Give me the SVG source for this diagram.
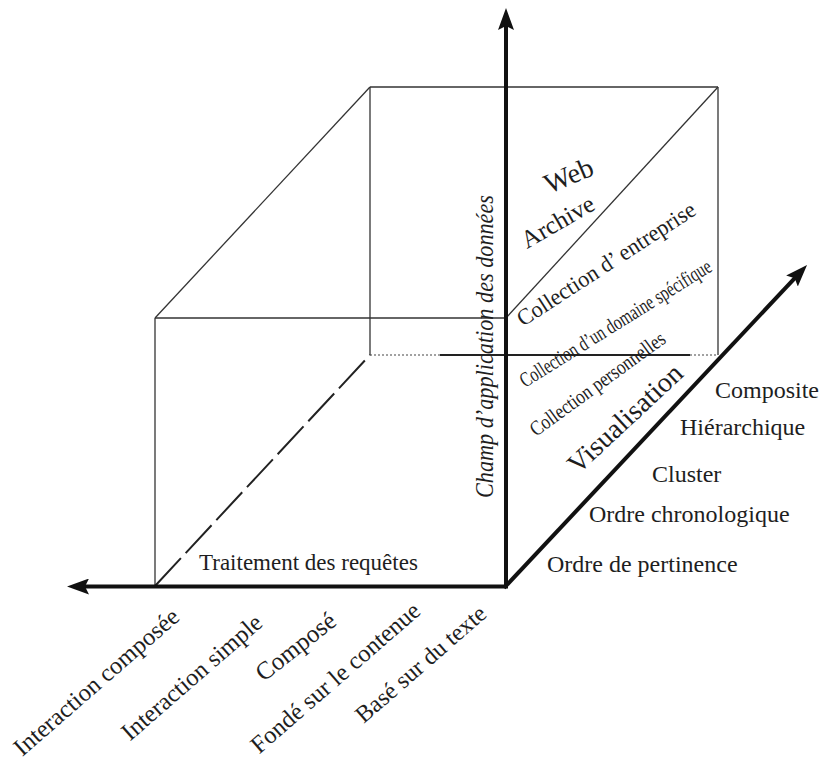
<svg xmlns="http://www.w3.org/2000/svg" width="827" height="769" viewBox="0 0 827 769">
  <style>
    text { font-family: "Liberation Serif", "Times New Roman", serif; fill: #1e1e1e; }
    .edge { stroke: #333; stroke-width: 1.3; fill: none; }
    .axis { stroke: #111; stroke-width: 4; fill: none; }
    .dotted { stroke: #444; stroke-width: 1.2; stroke-dasharray: 2 2; fill: none; }
    .lbl { font-size: 24px; }
    .tick { font-size: 24.5px; }
  </style>
  <defs>
    <marker id="head" viewBox="0 0 22 16" refX="12" refY="8" markerWidth="22" markerHeight="16" markerUnits="userSpaceOnUse" orient="auto">
      <path d="M0,0 L22,8 L0,16 L4,8 Z" fill="#111"/>
    </marker>
  </defs>

  <!-- cube edges -->
  <g id="cube">
    <!-- front face -->
    <line class="edge" x1="155" y1="318" x2="506" y2="318"/>
    <line class="edge" x1="155" y1="318" x2="155" y2="586"/>
    <!-- back face -->
    <line class="edge" x1="370" y1="87" x2="718" y2="87"/>
    <line class="edge" x1="370" y1="87" x2="370" y2="355"/>
    <line class="edge" x1="718" y1="87" x2="718" y2="355"/>
    <!-- receding edges -->
    <line class="edge" x1="155" y1="318" x2="370" y2="87"/>
    <line class="edge" x1="506" y1="318" x2="718" y2="87"/>
    <line x1="155" y1="586" x2="370" y2="355" stroke="#222" stroke-width="2" stroke-dasharray="38 7"/>
    <!-- hidden back bottom edge -->
    <line class="dotted" x1="370" y1="355" x2="440" y2="355"/>
    <line x1="440" y1="355" x2="690" y2="355" stroke="#222" stroke-width="2"/>
    <line class="dotted" x1="690" y1="355" x2="718" y2="355"/>
  </g>

  <!-- axes -->
  <g id="axes">
    <line class="axis" x1="506" y1="588" x2="506" y2="18" marker-end="url(#head)"/>
    <line class="axis" x1="508" y1="586.5" x2="77" y2="586.5" marker-end="url(#head)"/>
    <line class="axis" x1="504" y1="588" x2="800.2" y2="272.3" marker-end="url(#head)"/>
  </g>

  <!-- vertical axis: data scope -->
  <g id="scope">
    <text transform="translate(493,498) rotate(-90)" font-size="25" font-style="italic" textLength="303" lengthAdjust="spacingAndGlyphs">Champ d’application des données</text>
    <text transform="translate(549,194) rotate(-23)" font-size="28">Web</text>
    <text transform="translate(527,249) rotate(-30)" font-size="25">Archive</text>
    <text transform="translate(523,327) rotate(-33)" font-size="23" textLength="208" lengthAdjust="spacingAndGlyphs">Collection d’ entreprise</text>
    <text transform="translate(525,388) rotate(-32)" font-size="21" textLength="222" lengthAdjust="spacingAndGlyphs">Collection d’un domaine spécifique</text>
    <text transform="translate(536,437) rotate(-36)" font-size="21" textLength="162" lengthAdjust="spacingAndGlyphs">Collection personnelles</text>
  </g>

  <!-- diagonal axis: visualisation -->
  <g id="visualisation">
    <text transform="translate(578,475) rotate(-43)" font-size="28">Visualisation</text>
    <text class="lbl" x="715" y="398">Composite</text>
    <text class="lbl" x="680" y="435">Hiérarchique</text>
    <text class="lbl" x="652" y="482">Cluster</text>
    <text class="lbl" x="589" y="522">Ordre chronologique</text>
    <text class="lbl" x="547" y="572">Ordre de pertinence</text>
  </g>

  <!-- horizontal axis: query processing -->
  <g id="queries">
    <text x="199" y="570" font-size="23">Traitement des requêtes</text>
    <text class="tick" text-anchor="end" transform="translate(181,619) rotate(-41)">Interaction composée</text>
    <text class="tick" text-anchor="end" transform="translate(264,625) rotate(-41)">Interaction simple</text>
    <text text-anchor="end" font-size="25" transform="translate(338,624) rotate(-38)">Composé</text>
    <text class="tick" text-anchor="end" transform="translate(422,613) rotate(-41)">Fondé sur le contenue</text>
    <text text-anchor="end" font-size="24" transform="translate(488,616) rotate(-41)">Basé sur du texte</text>
  </g>
</svg>
